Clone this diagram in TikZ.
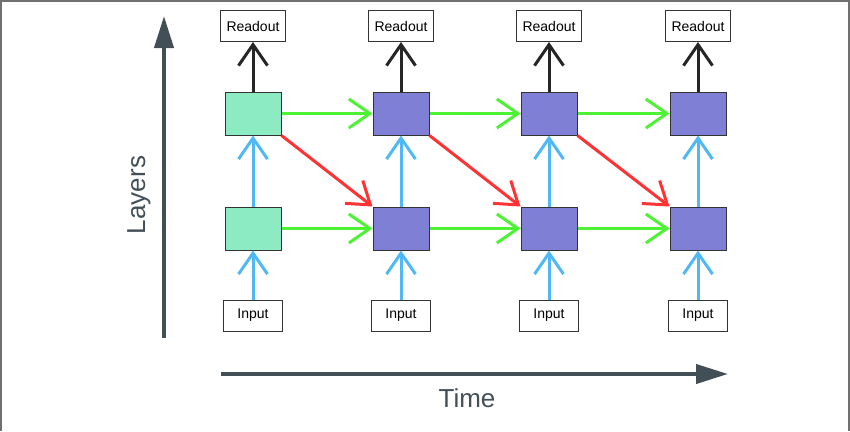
\documentclass[tikz,border=0pt]{standalone}
\usepackage{fontspec}
\setmainfont{Liberation Sans}
\usetikzlibrary{arrows.meta}
\definecolor{cellnew}{HTML}{8DEBC4}
\definecolor{cellold}{HTML}{7F7FD6}
\definecolor{fwdgreen}{HTML}{4DF234}
\definecolor{upblue}{HTML}{4FB8F5}
\definecolor{diagred}{HTML}{FF3333}
\definecolor{axisgray}{HTML}{434F57}
\definecolor{framegray}{HTML}{707070}
\tikzset{
	% boxes
	cell/.style={draw=black!80,line width=1pt,minimum width=56pt,minimum height=43pt,inner sep=0pt},
	labelbox/.style={draw=black!80,fill=white,line width=1pt,minimum height=31pt,inner sep=0pt,
		font=\fontsize{14}{16}\selectfont},
	readbox/.style={labelbox,minimum width=65pt},
	inbox/.style={labelbox,minimum width=59pt},
	axislabel/.style={text=axisgray,font=\fontsize{26}{30}\selectfont},
	% connectors
	conn/.style={line width=3pt,-{Straight Barb[length=21pt,width=29pt,line width=3pt]}},
	uparrow/.style={conn,upblue},
	outarrow/.style={conn,black!85},
	fwdarrow/.style={conn,fwdgreen},
	diagarrow/.style={conn,diagred},
	axisarrow/.style={axisgray,line width=4pt,-{Triangle[length=32pt,width=19pt]}},
}
\begin{document}
\begin{tikzpicture}[x=1pt,y=-1pt]
\useasboundingbox (0,0) rectangle (850,431);
% frame
\draw[framegray,line width=2pt] (1,431) -- (1,1) -- (849,1) -- (849,431);
% the columns
\foreach \i/\x/\c in {1/253/cellnew,2/401/cellold,3/549/cellold,4/698/cellold} {
  \node[readbox] (r\i) at (\x,26) {Readout};
  \node[cell,fill=\c] (t\i) at (\x,113.5) {};
  \node[cell,fill=\c] (b\i) at (\x,228.5) {};
  \node[inbox] (in\i) at (\x,315.5) {Input};
}
% vertical connections
\foreach \i in {1,...,4} {
  \draw[uparrow] (in\i) -- (b\i);
  \draw[uparrow] (b\i) -- (t\i);
  \draw[outarrow] (t\i) -- (r\i);
}
% forward in time
\foreach \i/\j in {1/2,2/3,3/4} {
  \draw[fwdarrow] (t\i) -- (t\j);
  \draw[fwdarrow] (b\i) -- (b\j);
  \draw[diagarrow] (t\i.south east) -- (b\j.north west);
}
% axes
\coordinate (lbot) at (164,338);
\coordinate (ltop) at (164,16);
\draw[axisarrow] (lbot) -- (ltop);
\node[axislabel,rotate=90] (layers) at (139,195) {Layers};
\coordinate (tstart) at (221,374);
\coordinate (tend) at (728,374);
\draw[axisarrow] (tstart) -- (tend);
\node[axislabel] (time) at (467,398) {Time};
\end{tikzpicture}
\end{document}
